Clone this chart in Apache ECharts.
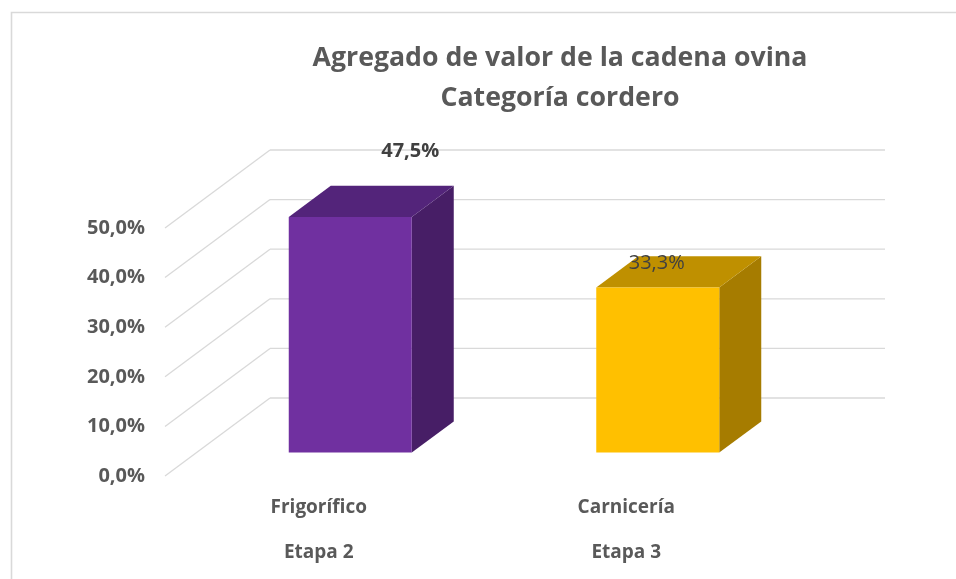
<!DOCTYPE html>
<html><head><meta charset="utf-8">
<script src="https://cdn.jsdelivr.net/npm/echarts@6/dist/echarts.min.js"></script>
<style>html,body{margin:0;padding:0;background:#fff}#c{width:956px;height:579px}</style>
</head><body><div id="c"></div>
<script>
const titleLines = ['Agregado de valor de la cadena ovina', 'Categoría cordero'];
const categories = ['Frigorífico', 'Carnicería'];
const stages = ['Etapa 2', 'Etapa 3'];
const values = [47.5, 33.3];
const yTicks = [0, 10, 20, 30, 40, 50];

// presentation constants
const FONT = '"Open Sans", sans-serif';
const DX = 105, DY = -78;      // depth of the 3D box (front plane -> back wall)
const F0 = 0.3, F1 = 0.7;      // bar depth position as fraction of full depth
const BAR_W = 0.4;             // bar width relative to category band
const barColors = [
  { front: '#7030a0', top: '#53247a', side: '#471e66' },
  { front: '#ffc000', top: '#bf9000', side: '#a67c00' }
];
const labelStyles = [
  { dx: 60, dy: -66, weight: 'bold', color: '#404040' },
  { dx: -1, dy: -24, weight: 'normal', color: '#404040' }
];
const fmtPct = v => v.toFixed(1).replace('.', ',') + '%';

const chart = echarts.init(document.getElementById('c'));

function renderGrid(params, api) {
  const cs = params.coordSys;
  const y = api.coord([0, api.value(1)])[1];
  const st = { stroke: '#d9d9d9', lineWidth: 1.3 };
  return {
    type: 'group', children: [
      { type: 'line', shape: { x1: cs.x, y1: y, x2: cs.x + DX, y2: y + DY }, style: st },
      { type: 'line', shape: { x1: cs.x + DX, y1: y + DY, x2: cs.x + cs.width + DX, y2: y + DY }, style: st }
    ]
  };
}

function renderBar(params, api) {
  const i = api.value(0), v = api.value(1);
  const base = api.coord([i, 0]), top = api.coord([i, v]);
  const band = api.size([1, 0])[0];
  const w = band * BAR_W;
  const fx = DX * F0, fy = DY * F0;
  const bx = DX * (F1 - F0), by = DY * (F1 - F0);
  const x0 = base[0] + fx - w / 2, x1 = x0 + w;
  const yb = base[1] + fy, yt = top[1] + fy;
  const c = barColors[i], ls = labelStyles[i];
  return {
    type: 'group', children: [
      { type: 'polygon', shape: { points: [[x1, yb], [x1 + bx, yb + by], [x1 + bx, yt + by], [x1, yt]] }, style: { fill: c.side } },
      { type: 'polygon', shape: { points: [[x0, yt], [x1, yt], [x1 + bx, yt + by], [x0 + bx, yt + by]] }, style: { fill: c.top } },
      { type: 'rect', shape: { x: x0, y: yt, width: w, height: yb - yt }, style: { fill: c.front } },
      { type: 'text', x: x0 + w / 2 + ls.dx, y: yt + ls.dy, z2: 10,
        style: { text: fmtPct(v), fill: ls.color, font: ls.weight + ' 20px ' + FONT, align: 'center', verticalAlign: 'middle' } }
    ]
  };
}

chart.setOption({
  animation: false,
  backgroundColor: '#ffffff',
  title: {
    text: titleLines.join('\n'),
    left: 560, top: 38, padding: 0, textAlign: 'center',
    textStyle: { fontFamily: FONT, fontWeight: 'bold', fontSize: 26.7, lineHeight: 40, color: '#595959' }
  },
  graphic: [{
    type: 'rect', shape: { x: 11.5, y: 12.5, width: 1000, height: 700 },
    style: { fill: 'none', stroke: '#d9d9d9', lineWidth: 1.6 }, silent: true
  }],
  grid: { left: 165, right: 176, top: 228, bottom: 103 },
  xAxis: {
    type: 'category', data: categories,
    axisLine: { show: false }, axisTick: { show: false },
    axisLabel: {
      margin: 9.5, lineHeight: 45, fontFamily: FONT, fontWeight: 'bold', fontSize: 19, color: '#595959',
      formatter: (val, idx) => val + '\n' + stages[idx]
    }
  },
  yAxis: {
    type: 'value', min: 0, max: 50, interval: 10,
    axisLine: { show: false }, axisTick: { show: false }, splitLine: { show: false },
    axisLabel: { margin: 20, fontFamily: FONT, fontWeight: 'bold', fontSize: 20, color: '#595959', formatter: v => fmtPct(v) }
  },
  series: [
    { type: 'custom', renderItem: renderGrid, data: yTicks.map(v => [0, v]), encode: { x: 0, y: 1 }, z: 1, silent: true },
    { type: 'custom', renderItem: renderBar, data: values.map((v, i) => [i, v]), encode: { x: 0, y: 1 }, z: 2 }
  ]
});
</script>
</body></html>
